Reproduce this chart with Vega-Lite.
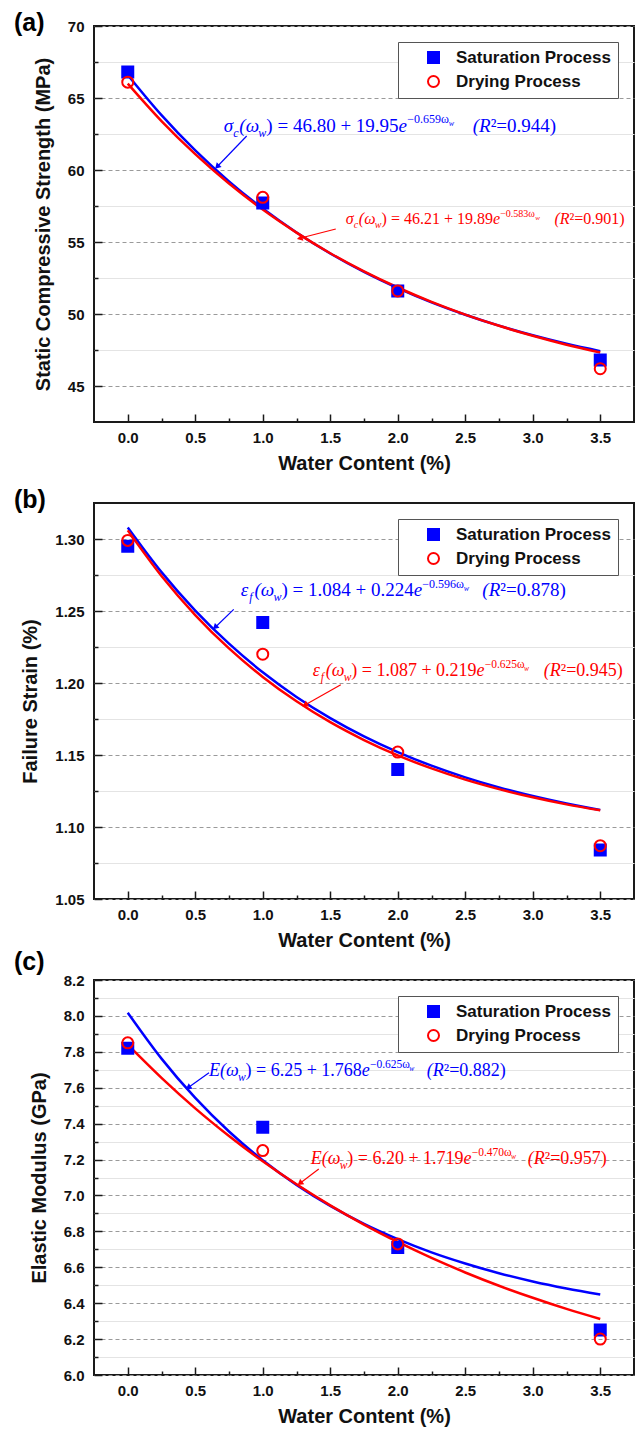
{
"$schema":"https://vega.github.io/schema/vega-lite/v6.json",
"background":"white",
"padding":{"left":13,"top":10,"right":5,"bottom":5},
"datasets":{
"pts":[
{"p":"a","s":"Saturation Process","x":0,"y":66.8},{"p":"a","s":"Saturation Process","x":1,"y":57.7},{"p":"a","s":"Saturation Process","x":2,"y":51.6},{"p":"a","s":"Saturation Process","x":3.5,"y":46.8},
{"p":"a","s":"Drying Process","x":0,"y":66.1},{"p":"a","s":"Drying Process","x":1,"y":58.1},{"p":"a","s":"Drying Process","x":2,"y":51.6},{"p":"a","s":"Drying Process","x":3.5,"y":46.2},
{"p":"b","s":"Saturation Process","x":0,"y":1.295},{"p":"b","s":"Saturation Process","x":1,"y":1.242},{"p":"b","s":"Saturation Process","x":2,"y":1.140},{"p":"b","s":"Saturation Process","x":3.5,"y":1.084},
{"p":"b","s":"Drying Process","x":0,"y":1.299},{"p":"b","s":"Drying Process","x":1,"y":1.220},{"p":"b","s":"Drying Process","x":2,"y":1.152},{"p":"b","s":"Drying Process","x":3.5,"y":1.087},
{"p":"c","s":"Saturation Process","x":0,"y":7.82},{"p":"c","s":"Saturation Process","x":1,"y":7.38},{"p":"c","s":"Saturation Process","x":2,"y":6.71},{"p":"c","s":"Saturation Process","x":3.5,"y":6.25},
{"p":"c","s":"Drying Process","x":0,"y":7.85},{"p":"c","s":"Drying Process","x":1,"y":7.25},{"p":"c","s":"Drying Process","x":2,"y":6.73},{"p":"c","s":"Drying Process","x":3.5,"y":6.20}
],
"crv":[
{"p":"a","s":"Saturation Process","x":0,"y":66.60},{"p":"a","s":"Saturation Process","x":0.25,"y":63.81},{"p":"a","s":"Saturation Process","x":0.5,"y":61.36},{"p":"a","s":"Saturation Process","x":0.75,"y":59.21},{"p":"a","s":"Saturation Process","x":1,"y":57.32},{"p":"a","s":"Saturation Process","x":1.25,"y":55.66},{"p":"a","s":"Saturation Process","x":1.5,"y":54.20},{"p":"a","s":"Saturation Process","x":1.75,"y":52.92},{"p":"a","s":"Saturation Process","x":2,"y":51.80},{"p":"a","s":"Saturation Process","x":2.25,"y":50.81},{"p":"a","s":"Saturation Process","x":2.5,"y":49.95},{"p":"a","s":"Saturation Process","x":2.75,"y":49.19},{"p":"a","s":"Saturation Process","x":3,"y":48.52},{"p":"a","s":"Saturation Process","x":3.25,"y":47.93},{"p":"a","s":"Saturation Process","x":3.5,"y":47.42},
{"p":"a","s":"Drying Process","x":0,"y":66.00},{"p":"a","s":"Drying Process","x":0.25,"y":63.40},{"p":"a","s":"Drying Process","x":0.5,"y":61.10},{"p":"a","s":"Drying Process","x":0.75,"y":59.06},{"p":"a","s":"Drying Process","x":1,"y":57.25},{"p":"a","s":"Drying Process","x":1.25,"y":55.65},{"p":"a","s":"Drying Process","x":1.5,"y":54.22},{"p":"a","s":"Drying Process","x":1.75,"y":52.96},{"p":"a","s":"Drying Process","x":2,"y":51.84},{"p":"a","s":"Drying Process","x":2.25,"y":50.84},{"p":"a","s":"Drying Process","x":2.5,"y":49.96},{"p":"a","s":"Drying Process","x":2.75,"y":49.18},{"p":"a","s":"Drying Process","x":3,"y":48.49},{"p":"a","s":"Drying Process","x":3.25,"y":47.87},{"p":"a","s":"Drying Process","x":3.5,"y":47.33},
{"p":"b","s":"Saturation Process","x":0,"y":1.3080},{"p":"b","s":"Saturation Process","x":0.25,"y":1.2770},{"p":"b","s":"Saturation Process","x":0.5,"y":1.2503},{"p":"b","s":"Saturation Process","x":0.75,"y":1.2273},{"p":"b","s":"Saturation Process","x":1,"y":1.2074},{"p":"b","s":"Saturation Process","x":1.25,"y":1.1903},{"p":"b","s":"Saturation Process","x":1.5,"y":1.1756},{"p":"b","s":"Saturation Process","x":1.75,"y":1.1629},{"p":"b","s":"Saturation Process","x":2,"y":1.1520},{"p":"b","s":"Saturation Process","x":2.25,"y":1.1426},{"p":"b","s":"Saturation Process","x":2.5,"y":1.1345},{"p":"b","s":"Saturation Process","x":2.75,"y":1.1275},{"p":"b","s":"Saturation Process","x":3,"y":1.1215},{"p":"b","s":"Saturation Process","x":3.25,"y":1.1163},{"p":"b","s":"Saturation Process","x":3.5,"y":1.1118},
{"p":"b","s":"Drying Process","x":0,"y":1.3060},{"p":"b","s":"Drying Process","x":0.25,"y":1.2743},{"p":"b","s":"Drying Process","x":0.5,"y":1.2472},{"p":"b","s":"Drying Process","x":0.75,"y":1.2240},{"p":"b","s":"Drying Process","x":1,"y":1.2042},{"p":"b","s":"Drying Process","x":1.25,"y":1.1873},{"p":"b","s":"Drying Process","x":1.5,"y":1.1728},{"p":"b","s":"Drying Process","x":1.75,"y":1.1604},{"p":"b","s":"Drying Process","x":2,"y":1.1497},{"p":"b","s":"Drying Process","x":2.25,"y":1.1407},{"p":"b","s":"Drying Process","x":2.5,"y":1.1329},{"p":"b","s":"Drying Process","x":2.75,"y":1.1263},{"p":"b","s":"Drying Process","x":3,"y":1.1206},{"p":"b","s":"Drying Process","x":3.25,"y":1.1157},{"p":"b","s":"Drying Process","x":3.5,"y":1.1116},
{"p":"c","s":"Saturation Process","x":0,"y":8.018},{"p":"c","s":"Saturation Process","x":0.25,"y":7.762},{"p":"c","s":"Saturation Process","x":0.5,"y":7.543},{"p":"c","s":"Saturation Process","x":0.75,"y":7.356},{"p":"c","s":"Saturation Process","x":1,"y":7.196},{"p":"c","s":"Saturation Process","x":1.25,"y":7.059},{"p":"c","s":"Saturation Process","x":1.5,"y":6.942},{"p":"c","s":"Saturation Process","x":1.75,"y":6.842},{"p":"c","s":"Saturation Process","x":2,"y":6.757},{"p":"c","s":"Saturation Process","x":2.25,"y":6.683},{"p":"c","s":"Saturation Process","x":2.5,"y":6.621},{"p":"c","s":"Saturation Process","x":2.75,"y":6.567},{"p":"c","s":"Saturation Process","x":3,"y":6.521},{"p":"c","s":"Saturation Process","x":3.25,"y":6.482},{"p":"c","s":"Saturation Process","x":3.5,"y":6.448},
{"p":"c","s":"Drying Process","x":0,"y":7.840},{"p":"c","s":"Drying Process","x":0.25,"y":7.655},{"p":"c","s":"Drying Process","x":0.5,"y":7.485},{"p":"c","s":"Drying Process","x":0.75,"y":7.331},{"p":"c","s":"Drying Process","x":1,"y":7.190},{"p":"c","s":"Drying Process","x":1.25,"y":7.062},{"p":"c","s":"Drying Process","x":1.5,"y":6.945},{"p":"c","s":"Drying Process","x":1.75,"y":6.838},{"p":"c","s":"Drying Process","x":2,"y":6.741},{"p":"c","s":"Drying Process","x":2.25,"y":6.652},{"p":"c","s":"Drying Process","x":2.5,"y":6.571},{"p":"c","s":"Drying Process","x":2.75,"y":6.497},{"p":"c","s":"Drying Process","x":3,"y":6.430},{"p":"c","s":"Drying Process","x":3.25,"y":6.368},{"p":"c","s":"Drying Process","x":3.5,"y":6.312}
],
"arr":[
{"p":"a","s":"Saturation Process","x":0.881,"y":62.36,"x2":0.667,"y2":60.28},
{"p":"a","s":"Drying Process","x":1.541,"y":55.90,"x2":1.281,"y2":55.28},
{"p":"b","s":"Saturation Process","x":0.785,"y":1.2511,"x2":0.652,"y2":1.2391},
{"p":"b","s":"Drying Process","x":1.578,"y":1.1988,"x2":1.319,"y2":1.1851},
{"p":"c","s":"Saturation Process","x":0.602,"y":7.684,"x2":0.454,"y2":7.604},
{"p":"c","s":"Drying Process","x":1.415,"y":7.147,"x2":1.281,"y2":7.071}
],
"eq":[
{"p":"a","s":"S","r":"gi","x":0.7111,"y":62.64,"t":"σ"},
{"p":"a","s":"S","r":"sub","x":0.7815,"y":62.64,"t":"c"},
{"p":"a","s":"S","r":"gi","x":0.8267,"y":62.64,"t":"(ω"},
{"p":"a","s":"S","r":"sub","x":0.9674,"y":62.64,"t":"w"},
{"p":"a","s":"S","r":"gr","x":1.0267,"y":62.64,"t":") = 46.80 + 19.95"},
{"p":"a","s":"S","r":"gi","x":2.0059,"y":62.64,"t":"e"},
{"p":"a","s":"S","r":"sup","x":2.0696,"y":62.64,"t":"−0.659ω"},
{"p":"a","s":"S","r":"ss","x":2.3778,"y":62.64,"t":"w"},
{"p":"a","s":"S","r":"gi","x":2.5556,"y":62.64,"t":"(R"},
{"p":"a","s":"S","r":"gr","x":2.6881,"y":62.64,"t":"²=0.944)"},
{"p":"a","s":"D","r":"gi","x":1.6148,"y":56.25,"t":"σ"},
{"p":"a","s":"D","r":"sub","x":1.6741,"y":56.25,"t":"c"},
{"p":"a","s":"D","r":"gi","x":1.7119,"y":56.25,"t":"(ω"},
{"p":"a","s":"D","r":"sub","x":1.8304,"y":56.25,"t":"w"},
{"p":"a","s":"D","r":"gr","x":1.8800,"y":56.25,"t":") = 46.21 + 19.89"},
{"p":"a","s":"D","r":"gi","x":2.7052,"y":56.25,"t":"e"},
{"p":"a","s":"D","r":"sup","x":2.7585,"y":56.25,"t":"−0.583ω"},
{"p":"a","s":"D","r":"ss","x":3.0178,"y":56.25,"t":"w"},
{"p":"a","s":"D","r":"gi","x":3.1607,"y":56.25,"t":"(R"},
{"p":"a","s":"D","r":"gr","x":3.2726,"y":56.25,"t":"²=0.901)"},
{"p":"b","s":"S","r":"gi","x":0.8370,"y":1.2604,"t":"ε"},
{"p":"b","s":"S","r":"sub","x":0.8993,"y":1.2604,"t":"f"},
{"p":"b","s":"S","r":"gi","x":0.9385,"y":1.2604,"t":"(ω"},
{"p":"b","s":"S","r":"sub","x":1.0793,"y":1.2604,"t":"w"},
{"p":"b","s":"S","r":"gr","x":1.1385,"y":1.2604,"t":") = 1.084 + 0.224"},
{"p":"b","s":"S","r":"gi","x":2.1178,"y":1.2604,"t":"e"},
{"p":"b","s":"S","r":"sup","x":2.1815,"y":1.2604,"t":"−0.596ω"},
{"p":"b","s":"S","r":"ss","x":2.4889,"y":1.2604,"t":"w"},
{"p":"b","s":"S","r":"gi","x":2.6267,"y":1.2604,"t":"(R"},
{"p":"b","s":"S","r":"gr","x":2.7593,"y":1.2604,"t":"²=0.878)"},
{"p":"b","s":"D","r":"gi","x":1.3704,"y":1.2049,"t":"ε"},
{"p":"b","s":"D","r":"sub","x":1.4289,"y":1.2049,"t":"f"},
{"p":"b","s":"D","r":"gi","x":1.4667,"y":1.2049,"t":"(ω"},
{"p":"b","s":"D","r":"sub","x":1.6,"y":1.2049,"t":"w"},
{"p":"b","s":"D","r":"gr","x":1.6556,"y":1.2049,"t":") = 1.087 + 0.219"},
{"p":"b","s":"D","r":"gi","x":2.5837,"y":1.2049,"t":"e"},
{"p":"b","s":"D","r":"sup","x":2.6437,"y":1.2049,"t":"−0.625ω"},
{"p":"b","s":"D","r":"ss","x":2.9356,"y":1.2049,"t":"w"},
{"p":"b","s":"D","r":"gi","x":3.0815,"y":1.2049,"t":"(R"},
{"p":"b","s":"D","r":"gr","x":3.2074,"y":1.2049,"t":"²=0.945)"},
{"p":"c","s":"S","r":"gi","x":0.6022,"y":7.665,"t":"E(ω"},
{"p":"c","s":"S","r":"sub","x":0.8170,"y":7.665,"t":"w"},
{"p":"c","s":"S","r":"gr","x":0.8726,"y":7.665,"t":") = 6.25 + 1.768"},
{"p":"c","s":"S","r":"gi","x":1.7341,"y":7.665,"t":"e"},
{"p":"c","s":"S","r":"sup","x":1.7941,"y":7.665,"t":"−0.625ω"},
{"p":"c","s":"S","r":"ss","x":2.0859,"y":7.665,"t":"w"},
{"p":"c","s":"S","r":"gi","x":2.2148,"y":7.665,"t":"(R"},
{"p":"c","s":"S","r":"gr","x":2.3407,"y":7.665,"t":"²=0.882)"},
{"p":"c","s":"D","r":"gi","x":1.3556,"y":7.175,"t":"E(ω"},
{"p":"c","s":"D","r":"sub","x":1.5704,"y":7.175,"t":"w"},
{"p":"c","s":"D","r":"gr","x":1.6259,"y":7.175,"t":") = 6.20 + 1.719"},
{"p":"c","s":"D","r":"gi","x":2.4874,"y":7.175,"t":"e"},
{"p":"c","s":"D","r":"sup","x":2.5481,"y":7.175,"t":"−0.470ω"},
{"p":"c","s":"D","r":"ss","x":2.8393,"y":7.175,"t":"w"},
{"p":"c","s":"D","r":"gi","x":2.963,"y":7.175,"t":"(R"},
{"p":"c","s":"D","r":"gr","x":3.089,"y":7.175,"t":"²=0.957)"}
]
},
"spacing":81,
"bounds":"flush",
"resolve":{"scale":{"color":"independent","shape":"independent","fill":"independent","stroke":"independent"}},
"vconcat":[
{
"width":540,"height":396,
"title":{"text":"(a)","anchor":"start","frame":"group","dx":-80,"offset":-17,"fontSize":25,"font":"Liberation Sans","fontWeight":"bold","color":"#000"},
"resolve":{"axis":{"x":"independent","y":"independent"}},
"layer":[
{"data":{"name":"crv"},"transform":[{"filter":"datum.p==='a'"}],"mark":{"type":"line","opacity":0},
"encoding":{"x":{"field":"x","type":"quantitative","scale":{"domain":[-0.25,3.75],"nice":false,"zero":false},"axis":{"orient":"bottom","values":[0.25,0.75,1.25,1.75,2.25,2.75,3.25],"labels":false,"tickSize":-4,"title":null,"grid":false}},
"y":{"field":"y","type":"quantitative","scale":{"domain":[42.5,70],"nice":false,"zero":false},"axis":{"orient":"left","values":[47.5,52.5,57.5,62.5,67.5],"labels":false,"tickSize":-4,"title":null,"grid":true,"gridColor":"#e4e4e4","gridDash":[]}},"detail":{"field":"s"}}},
{"data":{"name":"pts"},"transform":[{"filter":"datum.p==='a'"}],"mark":{"type":"point","filled":false,"size":121,"strokeWidth":2,"opacity":0},
"encoding":{"x":{"field":"x","type":"quantitative","axis":null},"y":{"field":"y","type":"quantitative","axis":null},
"color":{"field":"s","type":"nominal","scale":{"domain":["Saturation Process","Drying Process"],"range":["#0000ff","#ff0000"]},"legend":{"title":null,"symbolOpacity":1}},
"shape":{"field":"s","type":"nominal","scale":{"domain":["Saturation Process","Drying Process"],"range":["square","circle"]},"legend":{"title":null,"symbolOpacity":1}},
"fill":{"field":"s","type":"nominal","scale":{"domain":["Saturation Process","Drying Process"],"range":["#0000ff","transparent"]},"legend":{"title":null,"symbolOpacity":1}}}},
{"data":{"name":"crv"},"transform":[{"filter":"datum.p==='a'"}],"mark":{"type":"line","strokeWidth":2.5,"interpolate":"monotone"},
"encoding":{"x":{"field":"x","type":"quantitative","scale":{"domain":[-0.25,3.75],"nice":false,"zero":false},"axis":{"orient":"bottom","values":[0,0.5,1,1.5,2,2.5,3,3.5],"format":".1f","title":"Water Content (%)","grid":false,"tickSize":-8,"labelPadding":16,"titlePadding":8}},
"y":{"field":"y","type":"quantitative","scale":{"domain":[42.5,70],"nice":false,"zero":false},"axis":{"orient":"left","values":[45,50,55,60,65,70],"format":"d","title":"Static Compressive Strength (MPa)","grid":true,"tickSize":-8,"labelPadding":18,"titlePadding":14}},
"stroke":{"field":"s","type":"nominal","scale":{"domain":["Drying Process","Saturation Process"],"range":["#ff0000","#0000ff"]},"legend":null}}},
{"data":{"name":"pts"},"transform":[{"filter":"datum.p==='a'"}],"mark":{"type":"point","filled":false,"size":121,"strokeWidth":2,"opacity":1},
"encoding":{"x":{"field":"x","type":"quantitative","axis":null},"y":{"field":"y","type":"quantitative","axis":null},
"color":{"field":"s","type":"nominal","legend":{"title":null}},
"shape":{"field":"s","type":"nominal","legend":{"title":null}},
"fill":{"field":"s","type":"nominal","legend":{"title":null}}}},
{"data":{"name":"arr"},"transform":[{"filter":"datum.p==='a'"}],"mark":{"type":"rule","strokeWidth":1.2},
"encoding":{"x":{"field":"x","type":"quantitative","axis":null},"y":{"field":"y","type":"quantitative","axis":null},"x2":{"field":"x2"},"y2":{"field":"y2"},"stroke":{"field":"s","type":"nominal","legend":null}}},
{"data":{"name":"arr"},"transform":[{"filter":"datum.p==='a'&&datum.s==='Saturation Process'"}],"mark":{"type":"point","shape":"triangle","filled":true,"size":45,"angle":224,"color":"#0000ff","opacity":1},
"encoding":{"x":{"field":"x2","type":"quantitative","axis":null},"y":{"field":"y2","type":"quantitative","axis":null}}},
{"data":{"name":"arr"},"transform":[{"filter":"datum.p==='a'&&datum.s==='Drying Process'"}],"mark":{"type":"point","shape":"triangle","filled":true,"size":45,"angle":256,"color":"#ff0000","opacity":1},
"encoding":{"x":{"field":"x2","type":"quantitative","axis":null},"y":{"field":"y2","type":"quantitative","axis":null}}},
{"data":{"name":"eq"},"transform":[{"filter":"datum.p==='a'&&datum.s==='S'&&datum.r==='gi'"}],"mark":{"type":"text","font":"Liberation Serif","fontStyle":"italic","fontSize":19,"align":"left","baseline":"alphabetic","color":"#0000ff"},"encoding":{"x":{"field":"x","type":"quantitative","axis":null},"y":{"field":"y","type":"quantitative","axis":null},"text":{"field":"t"}}},
{"data":{"name":"eq"},"transform":[{"filter":"datum.p==='a'&&datum.s==='S'&&datum.r==='gr'"}],"mark":{"type":"text","font":"Liberation Serif","fontSize":19,"align":"left","baseline":"alphabetic","color":"#0000ff"},"encoding":{"x":{"field":"x","type":"quantitative","axis":null},"y":{"field":"y","type":"quantitative","axis":null},"text":{"field":"t"}}},
{"data":{"name":"eq"},"transform":[{"filter":"datum.p==='a'&&datum.s==='S'&&datum.r==='sub'"}],"mark":{"type":"text","font":"Liberation Serif","fontStyle":"italic","fontSize":12,"dy":5,"align":"left","baseline":"alphabetic","color":"#0000ff"},"encoding":{"x":{"field":"x","type":"quantitative","axis":null},"y":{"field":"y","type":"quantitative","axis":null},"text":{"field":"t"}}},
{"data":{"name":"eq"},"transform":[{"filter":"datum.p==='a'&&datum.s==='S'&&datum.r==='sup'"}],"mark":{"type":"text","font":"Liberation Serif","fontSize":12,"dy":-8.5,"align":"left","baseline":"alphabetic","color":"#0000ff"},"encoding":{"x":{"field":"x","type":"quantitative","axis":null},"y":{"field":"y","type":"quantitative","axis":null},"text":{"field":"t"}}},
{"data":{"name":"eq"},"transform":[{"filter":"datum.p==='a'&&datum.s==='S'&&datum.r==='ss'"}],"mark":{"type":"text","font":"Liberation Serif","fontStyle":"italic","fontSize":8,"dy":-5.5,"align":"left","baseline":"alphabetic","color":"#0000ff"},"encoding":{"x":{"field":"x","type":"quantitative","axis":null},"y":{"field":"y","type":"quantitative","axis":null},"text":{"field":"t"}}},
{"data":{"name":"eq"},"transform":[{"filter":"datum.p==='a'&&datum.s==='D'&&datum.r==='gi'"}],"mark":{"type":"text","font":"Liberation Serif","fontStyle":"italic","fontSize":16,"align":"left","baseline":"alphabetic","color":"#ff0000"},"encoding":{"x":{"field":"x","type":"quantitative","axis":null},"y":{"field":"y","type":"quantitative","axis":null},"text":{"field":"t"}}},
{"data":{"name":"eq"},"transform":[{"filter":"datum.p==='a'&&datum.s==='D'&&datum.r==='gr'"}],"mark":{"type":"text","font":"Liberation Serif","fontSize":16,"align":"left","baseline":"alphabetic","color":"#ff0000"},"encoding":{"x":{"field":"x","type":"quantitative","axis":null},"y":{"field":"y","type":"quantitative","axis":null},"text":{"field":"t"}}},
{"data":{"name":"eq"},"transform":[{"filter":"datum.p==='a'&&datum.s==='D'&&datum.r==='sub'"}],"mark":{"type":"text","font":"Liberation Serif","fontStyle":"italic","fontSize":10,"dy":4,"align":"left","baseline":"alphabetic","color":"#ff0000"},"encoding":{"x":{"field":"x","type":"quantitative","axis":null},"y":{"field":"y","type":"quantitative","axis":null},"text":{"field":"t"}}},
{"data":{"name":"eq"},"transform":[{"filter":"datum.p==='a'&&datum.s==='D'&&datum.r==='sup'"}],"mark":{"type":"text","font":"Liberation Serif","fontSize":10,"dy":-7,"align":"left","baseline":"alphabetic","color":"#ff0000"},"encoding":{"x":{"field":"x","type":"quantitative","axis":null},"y":{"field":"y","type":"quantitative","axis":null},"text":{"field":"t"}}},
{"data":{"name":"eq"},"transform":[{"filter":"datum.p==='a'&&datum.s==='D'&&datum.r==='ss'"}],"mark":{"type":"text","font":"Liberation Serif","fontStyle":"italic","fontSize":7,"dy":-4.5,"align":"left","baseline":"alphabetic","color":"#ff0000"},"encoding":{"x":{"field":"x","type":"quantitative","axis":null},"y":{"field":"y","type":"quantitative","axis":null},"text":{"field":"t"}}}
]
},
{
"width":540,"height":396,
"title":{"text":"(b)","anchor":"start","frame":"group","dx":-80,"offset":-10,"fontSize":25,"font":"Liberation Sans","fontWeight":"bold","color":"#000"},
"resolve":{"axis":{"x":"independent","y":"independent"}},
"layer":[
{"data":{"name":"crv"},"transform":[{"filter":"datum.p==='b'"}],"mark":{"type":"line","opacity":0},
"encoding":{"x":{"field":"x","type":"quantitative","scale":{"domain":[-0.25,3.75],"nice":false,"zero":false},"axis":{"orient":"bottom","values":[0.25,0.75,1.25,1.75,2.25,2.75,3.25],"labels":false,"tickSize":-4,"title":null,"grid":false}},
"y":{"field":"y","type":"quantitative","scale":{"domain":[1.05,1.325],"nice":false,"zero":false},"axis":{"orient":"left","values":[1.075,1.125,1.175,1.225,1.275],"labels":false,"tickSize":-4,"title":null,"grid":true,"gridColor":"#e4e4e4","gridDash":[]}},"detail":{"field":"s"}}},
{"data":{"name":"pts"},"transform":[{"filter":"datum.p==='b'"}],"mark":{"type":"point","filled":false,"size":121,"strokeWidth":2,"opacity":0},
"encoding":{"x":{"field":"x","type":"quantitative","axis":null},"y":{"field":"y","type":"quantitative","axis":null},
"color":{"field":"s","type":"nominal","scale":{"domain":["Saturation Process","Drying Process"],"range":["#0000ff","#ff0000"]},"legend":{"title":null,"symbolOpacity":1}},
"shape":{"field":"s","type":"nominal","scale":{"domain":["Saturation Process","Drying Process"],"range":["square","circle"]},"legend":{"title":null,"symbolOpacity":1}},
"fill":{"field":"s","type":"nominal","scale":{"domain":["Saturation Process","Drying Process"],"range":["#0000ff","transparent"]},"legend":{"title":null,"symbolOpacity":1}}}},
{"data":{"name":"crv"},"transform":[{"filter":"datum.p==='b'"}],"mark":{"type":"line","strokeWidth":2.5,"interpolate":"monotone"},
"encoding":{"x":{"field":"x","type":"quantitative","scale":{"domain":[-0.25,3.75],"nice":false,"zero":false},"axis":{"orient":"bottom","values":[0,0.5,1,1.5,2,2.5,3,3.5],"format":".1f","title":"Water Content (%)","grid":false,"tickSize":-8,"labelPadding":16,"titlePadding":8}},
"y":{"field":"y","type":"quantitative","scale":{"domain":[1.05,1.325],"nice":false,"zero":false},"axis":{"orient":"left","values":[1.05,1.1,1.15,1.2,1.25,1.3],"format":".2f","title":"Failure Strain (%)","grid":true,"tickSize":-8,"labelPadding":18,"titlePadding":14}},
"stroke":{"field":"s","type":"nominal","scale":{"domain":["Drying Process","Saturation Process"],"range":["#ff0000","#0000ff"]},"legend":null}}},
{"data":{"name":"pts"},"transform":[{"filter":"datum.p==='b'"}],"mark":{"type":"point","filled":false,"size":121,"strokeWidth":2,"opacity":1},
"encoding":{"x":{"field":"x","type":"quantitative","axis":null},"y":{"field":"y","type":"quantitative","axis":null},
"color":{"field":"s","type":"nominal","legend":{"title":null}},
"shape":{"field":"s","type":"nominal","legend":{"title":null}},
"fill":{"field":"s","type":"nominal","legend":{"title":null}}}},
{"data":{"name":"arr"},"transform":[{"filter":"datum.p==='b'"}],"mark":{"type":"rule","strokeWidth":1.2},
"encoding":{"x":{"field":"x","type":"quantitative","axis":null},"y":{"field":"y","type":"quantitative","axis":null},"x2":{"field":"x2"},"y2":{"field":"y2"},"stroke":{"field":"s","type":"nominal","legend":null}}},
{"data":{"name":"arr"},"transform":[{"filter":"datum.p==='b'&&datum.s==='Saturation Process'"}],"mark":{"type":"point","shape":"triangle","filled":true,"size":45,"angle":227,"color":"#0000ff","opacity":1},
"encoding":{"x":{"field":"x2","type":"quantitative","axis":null},"y":{"field":"y2","type":"quantitative","axis":null}}},
{"data":{"name":"arr"},"transform":[{"filter":"datum.p==='b'&&datum.s==='Drying Process'"}],"mark":{"type":"point","shape":"triangle","filled":true,"size":45,"angle":240,"color":"#ff0000","opacity":1},
"encoding":{"x":{"field":"x2","type":"quantitative","axis":null},"y":{"field":"y2","type":"quantitative","axis":null}}},
{"data":{"name":"eq"},"transform":[{"filter":"datum.p==='b'&&datum.s==='S'&&datum.r==='gi'"}],"mark":{"type":"text","font":"Liberation Serif","fontStyle":"italic","fontSize":19,"align":"left","baseline":"alphabetic","color":"#0000ff"},"encoding":{"x":{"field":"x","type":"quantitative","axis":null},"y":{"field":"y","type":"quantitative","axis":null},"text":{"field":"t"}}},
{"data":{"name":"eq"},"transform":[{"filter":"datum.p==='b'&&datum.s==='S'&&datum.r==='gr'"}],"mark":{"type":"text","font":"Liberation Serif","fontSize":19,"align":"left","baseline":"alphabetic","color":"#0000ff"},"encoding":{"x":{"field":"x","type":"quantitative","axis":null},"y":{"field":"y","type":"quantitative","axis":null},"text":{"field":"t"}}},
{"data":{"name":"eq"},"transform":[{"filter":"datum.p==='b'&&datum.s==='S'&&datum.r==='sub'"}],"mark":{"type":"text","font":"Liberation Serif","fontStyle":"italic","fontSize":12,"dy":5,"align":"left","baseline":"alphabetic","color":"#0000ff"},"encoding":{"x":{"field":"x","type":"quantitative","axis":null},"y":{"field":"y","type":"quantitative","axis":null},"text":{"field":"t"}}},
{"data":{"name":"eq"},"transform":[{"filter":"datum.p==='b'&&datum.s==='S'&&datum.r==='sup'"}],"mark":{"type":"text","font":"Liberation Serif","fontSize":12,"dy":-8.5,"align":"left","baseline":"alphabetic","color":"#0000ff"},"encoding":{"x":{"field":"x","type":"quantitative","axis":null},"y":{"field":"y","type":"quantitative","axis":null},"text":{"field":"t"}}},
{"data":{"name":"eq"},"transform":[{"filter":"datum.p==='b'&&datum.s==='S'&&datum.r==='ss'"}],"mark":{"type":"text","font":"Liberation Serif","fontStyle":"italic","fontSize":8,"dy":-5.5,"align":"left","baseline":"alphabetic","color":"#0000ff"},"encoding":{"x":{"field":"x","type":"quantitative","axis":null},"y":{"field":"y","type":"quantitative","axis":null},"text":{"field":"t"}}},
{"data":{"name":"eq"},"transform":[{"filter":"datum.p==='b'&&datum.s==='D'&&datum.r==='gi'"}],"mark":{"type":"text","font":"Liberation Serif","fontStyle":"italic","fontSize":18,"align":"left","baseline":"alphabetic","color":"#ff0000"},"encoding":{"x":{"field":"x","type":"quantitative","axis":null},"y":{"field":"y","type":"quantitative","axis":null},"text":{"field":"t"}}},
{"data":{"name":"eq"},"transform":[{"filter":"datum.p==='b'&&datum.s==='D'&&datum.r==='gr'"}],"mark":{"type":"text","font":"Liberation Serif","fontSize":18,"align":"left","baseline":"alphabetic","color":"#ff0000"},"encoding":{"x":{"field":"x","type":"quantitative","axis":null},"y":{"field":"y","type":"quantitative","axis":null},"text":{"field":"t"}}},
{"data":{"name":"eq"},"transform":[{"filter":"datum.p==='b'&&datum.s==='D'&&datum.r==='sub'"}],"mark":{"type":"text","font":"Liberation Serif","fontStyle":"italic","fontSize":11.5,"dy":5,"align":"left","baseline":"alphabetic","color":"#ff0000"},"encoding":{"x":{"field":"x","type":"quantitative","axis":null},"y":{"field":"y","type":"quantitative","axis":null},"text":{"field":"t"}}},
{"data":{"name":"eq"},"transform":[{"filter":"datum.p==='b'&&datum.s==='D'&&datum.r==='sup'"}],"mark":{"type":"text","font":"Liberation Serif","fontSize":11.5,"dy":-8,"align":"left","baseline":"alphabetic","color":"#ff0000"},"encoding":{"x":{"field":"x","type":"quantitative","axis":null},"y":{"field":"y","type":"quantitative","axis":null},"text":{"field":"t"}}},
{"data":{"name":"eq"},"transform":[{"filter":"datum.p==='b'&&datum.s==='D'&&datum.r==='ss'"}],"mark":{"type":"text","font":"Liberation Serif","fontStyle":"italic","fontSize":7.5,"dy":-5,"align":"left","baseline":"alphabetic","color":"#ff0000"},"encoding":{"x":{"field":"x","type":"quantitative","axis":null},"y":{"field":"y","type":"quantitative","axis":null},"text":{"field":"t"}}}
]
},
{
"width":540,"height":395,
"title":{"text":"(c)","anchor":"start","frame":"group","dx":-80,"offset":-2,"fontSize":25,"font":"Liberation Sans","fontWeight":"bold","color":"#000"},
"resolve":{"axis":{"x":"independent","y":"independent"}},
"layer":[
{"data":{"name":"crv"},"transform":[{"filter":"datum.p==='c'"}],"mark":{"type":"line","opacity":0},
"encoding":{"x":{"field":"x","type":"quantitative","scale":{"domain":[-0.25,3.75],"nice":false,"zero":false},"axis":{"orient":"bottom","values":[0.25,0.75,1.25,1.75,2.25,2.75,3.25],"labels":false,"tickSize":-4,"title":null,"grid":false}},
"y":{"field":"y","type":"quantitative","scale":{"domain":[6.0,8.2],"nice":false,"zero":false},"axis":{"orient":"left","values":[6.1,6.3,6.5,6.7,6.9,7.1,7.3,7.5,7.7,7.9,8.1],"labels":false,"tickSize":-4,"title":null,"grid":true,"gridColor":"#e4e4e4","gridDash":[]}},"detail":{"field":"s"}}},
{"data":{"name":"pts"},"transform":[{"filter":"datum.p==='c'"}],"mark":{"type":"point","filled":false,"size":121,"strokeWidth":2,"opacity":0},
"encoding":{"x":{"field":"x","type":"quantitative","axis":null},"y":{"field":"y","type":"quantitative","axis":null},
"color":{"field":"s","type":"nominal","scale":{"domain":["Saturation Process","Drying Process"],"range":["#0000ff","#ff0000"]},"legend":{"title":null,"symbolOpacity":1}},
"shape":{"field":"s","type":"nominal","scale":{"domain":["Saturation Process","Drying Process"],"range":["square","circle"]},"legend":{"title":null,"symbolOpacity":1}},
"fill":{"field":"s","type":"nominal","scale":{"domain":["Saturation Process","Drying Process"],"range":["#0000ff","transparent"]},"legend":{"title":null,"symbolOpacity":1}}}},
{"data":{"name":"crv"},"transform":[{"filter":"datum.p==='c'"}],"mark":{"type":"line","strokeWidth":2.5,"interpolate":"monotone"},
"encoding":{"x":{"field":"x","type":"quantitative","scale":{"domain":[-0.25,3.75],"nice":false,"zero":false},"axis":{"orient":"bottom","values":[0,0.5,1,1.5,2,2.5,3,3.5],"format":".1f","title":"Water Content (%)","grid":false,"tickSize":-8,"labelPadding":16,"titlePadding":8}},
"y":{"field":"y","type":"quantitative","scale":{"domain":[6.0,8.2],"nice":false,"zero":false},"axis":{"orient":"left","values":[6.0,6.2,6.4,6.6,6.8,7.0,7.2,7.4,7.6,7.8,8.0,8.2],"format":".1f","title":"Elastic Modulus (GPa)","grid":true,"tickSize":-8,"labelPadding":18,"titlePadding":14}},
"stroke":{"field":"s","type":"nominal","scale":{"domain":["Drying Process","Saturation Process"],"range":["#ff0000","#0000ff"]},"legend":null}}},
{"data":{"name":"pts"},"transform":[{"filter":"datum.p==='c'"}],"mark":{"type":"point","filled":false,"size":121,"strokeWidth":2,"opacity":1},
"encoding":{"x":{"field":"x","type":"quantitative","axis":null},"y":{"field":"y","type":"quantitative","axis":null},
"color":{"field":"s","type":"nominal","legend":{"title":null}},
"shape":{"field":"s","type":"nominal","legend":{"title":null}},
"fill":{"field":"s","type":"nominal","legend":{"title":null}}}},
{"data":{"name":"arr"},"transform":[{"filter":"datum.p==='c'"}],"mark":{"type":"rule","strokeWidth":1.2},
"encoding":{"x":{"field":"x","type":"quantitative","axis":null},"y":{"field":"y","type":"quantitative","axis":null},"x2":{"field":"x2"},"y2":{"field":"y2"},"stroke":{"field":"s","type":"nominal","legend":null}}},
{"data":{"name":"arr"},"transform":[{"filter":"datum.p==='c'&&datum.s==='Saturation Process'"}],"mark":{"type":"point","shape":"triangle","filled":true,"size":45,"angle":235,"color":"#0000ff","opacity":1},
"encoding":{"x":{"field":"x2","type":"quantitative","axis":null},"y":{"field":"y2","type":"quantitative","axis":null}}},
{"data":{"name":"arr"},"transform":[{"filter":"datum.p==='c'&&datum.s==='Drying Process'"}],"mark":{"type":"point","shape":"triangle","filled":true,"size":45,"angle":232,"color":"#ff0000","opacity":1},
"encoding":{"x":{"field":"x2","type":"quantitative","axis":null},"y":{"field":"y2","type":"quantitative","axis":null}}},
{"data":{"name":"eq"},"transform":[{"filter":"datum.p==='c'&&datum.s==='S'&&datum.r==='gi'"}],"mark":{"type":"text","font":"Liberation Serif","fontStyle":"italic","fontSize":18,"align":"left","baseline":"alphabetic","color":"#0000ff"},"encoding":{"x":{"field":"x","type":"quantitative","axis":null},"y":{"field":"y","type":"quantitative","axis":null},"text":{"field":"t"}}},
{"data":{"name":"eq"},"transform":[{"filter":"datum.p==='c'&&datum.s==='S'&&datum.r==='gr'"}],"mark":{"type":"text","font":"Liberation Serif","fontSize":18,"align":"left","baseline":"alphabetic","color":"#0000ff"},"encoding":{"x":{"field":"x","type":"quantitative","axis":null},"y":{"field":"y","type":"quantitative","axis":null},"text":{"field":"t"}}},
{"data":{"name":"eq"},"transform":[{"filter":"datum.p==='c'&&datum.s==='S'&&datum.r==='sub'"}],"mark":{"type":"text","font":"Liberation Serif","fontStyle":"italic","fontSize":11.5,"dy":5,"align":"left","baseline":"alphabetic","color":"#0000ff"},"encoding":{"x":{"field":"x","type":"quantitative","axis":null},"y":{"field":"y","type":"quantitative","axis":null},"text":{"field":"t"}}},
{"data":{"name":"eq"},"transform":[{"filter":"datum.p==='c'&&datum.s==='S'&&datum.r==='sup'"}],"mark":{"type":"text","font":"Liberation Serif","fontSize":11.5,"dy":-8,"align":"left","baseline":"alphabetic","color":"#0000ff"},"encoding":{"x":{"field":"x","type":"quantitative","axis":null},"y":{"field":"y","type":"quantitative","axis":null},"text":{"field":"t"}}},
{"data":{"name":"eq"},"transform":[{"filter":"datum.p==='c'&&datum.s==='S'&&datum.r==='ss'"}],"mark":{"type":"text","font":"Liberation Serif","fontStyle":"italic","fontSize":7.5,"dy":-5,"align":"left","baseline":"alphabetic","color":"#0000ff"},"encoding":{"x":{"field":"x","type":"quantitative","axis":null},"y":{"field":"y","type":"quantitative","axis":null},"text":{"field":"t"}}},
{"data":{"name":"eq"},"transform":[{"filter":"datum.p==='c'&&datum.s==='D'&&datum.r==='gi'"}],"mark":{"type":"text","font":"Liberation Serif","fontStyle":"italic","fontSize":18,"align":"left","baseline":"alphabetic","color":"#ff0000"},"encoding":{"x":{"field":"x","type":"quantitative","axis":null},"y":{"field":"y","type":"quantitative","axis":null},"text":{"field":"t"}}},
{"data":{"name":"eq"},"transform":[{"filter":"datum.p==='c'&&datum.s==='D'&&datum.r==='gr'"}],"mark":{"type":"text","font":"Liberation Serif","fontSize":18,"align":"left","baseline":"alphabetic","color":"#ff0000"},"encoding":{"x":{"field":"x","type":"quantitative","axis":null},"y":{"field":"y","type":"quantitative","axis":null},"text":{"field":"t"}}},
{"data":{"name":"eq"},"transform":[{"filter":"datum.p==='c'&&datum.s==='D'&&datum.r==='sub'"}],"mark":{"type":"text","font":"Liberation Serif","fontStyle":"italic","fontSize":11.5,"dy":5,"align":"left","baseline":"alphabetic","color":"#ff0000"},"encoding":{"x":{"field":"x","type":"quantitative","axis":null},"y":{"field":"y","type":"quantitative","axis":null},"text":{"field":"t"}}},
{"data":{"name":"eq"},"transform":[{"filter":"datum.p==='c'&&datum.s==='D'&&datum.r==='sup'"}],"mark":{"type":"text","font":"Liberation Serif","fontSize":11.5,"dy":-8,"align":"left","baseline":"alphabetic","color":"#ff0000"},"encoding":{"x":{"field":"x","type":"quantitative","axis":null},"y":{"field":"y","type":"quantitative","axis":null},"text":{"field":"t"}}},
{"data":{"name":"eq"},"transform":[{"filter":"datum.p==='c'&&datum.s==='D'&&datum.r==='ss'"}],"mark":{"type":"text","font":"Liberation Serif","fontStyle":"italic","fontSize":7.5,"dy":-5,"align":"left","baseline":"alphabetic","color":"#ff0000"},"encoding":{"x":{"field":"x","type":"quantitative","axis":null},"y":{"field":"y","type":"quantitative","axis":null},"text":{"field":"t"}}}
]
}
],
"config":{
"view":{"stroke":"#1a1a1a","strokeWidth":2},
"font":"Liberation Sans",
"axis":{"labelFont":"Liberation Sans","labelFontSize":15,"labelFontWeight":"bold","labelColor":"#111","titleFont":"Liberation Sans","titleFontSize":20,"titleFontWeight":"bold","titleColor":"#111","tickColor":"#1a1a1a","tickWidth":1.5,"gridColor":"#9a9a9a","gridDash":[4,3],"gridWidth":1,"domain":false},
"legend":{"orient":"top-right","offset":16,"padding":7,"strokeColor":"#555","fillColor":"#fff","labelFont":"Liberation Sans","labelFontSize":17,"labelFontWeight":"bold","labelColor":"#111","symbolSize":121,"symbolStrokeWidth":2,"labelOffset":14,"rowPadding":5,"symbolOffset":20,"labelLimit":300}
}
}
